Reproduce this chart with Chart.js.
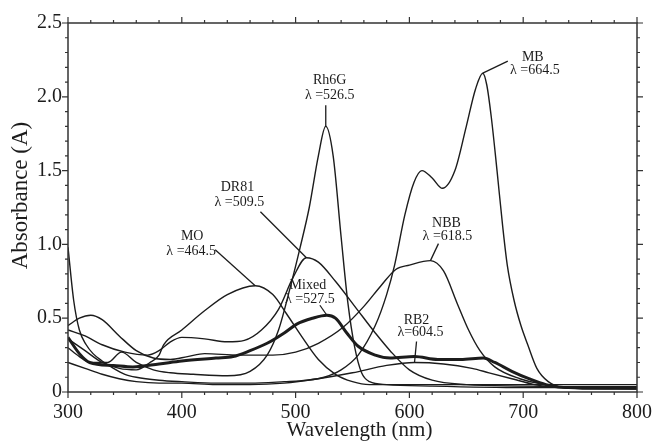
<!DOCTYPE html>
<html>
<head>
<meta charset="utf-8">
<script src="https://cdn.jsdelivr.net/npm/chart.js@4.4.1/dist/chart.umd.min.js"></script>
<style>
  body { margin: 0; background: #fff; }
  #wrap { width: 652px; height: 443px; }
</style>
</head>
<body>
<div id="wrap"><canvas id="spectra" width="652" height="443"></canvas></div>
<script>
// Absorption spectra

const mbNm  = [300,305,310,316,322,330,340,350,360,380,400,430,460,490,510,525,540,555,570,580,587,596,604,611,620,629,640,650,658,664.5,668,672,677,682,686,692,698,704,712,722,735,760,800];
const mbAbs = [0.98,0.62,0.42,0.32,0.26,0.21,0.16,0.12,0.10,0.08,0.07,0.06,0.06,0.07,0.08,0.10,0.15,0.25,0.45,0.66,0.86,1.20,1.42,1.50,1.45,1.38,1.50,1.80,2.05,2.16,2.08,1.86,1.50,1.12,0.86,0.62,0.45,0.32,0.16,0.07,0.03,0.02,0.02];

const rhNm  = [300,310,320,335,347,360,375,390,410,440,460,475,485,495,504,512,520,526.5,533,540,546,552,558,565,580,620,700,800];
const rhAbs = [0.30,0.24,0.20,0.20,0.27,0.20,0.15,0.13,0.12,0.11,0.14,0.25,0.42,0.70,0.98,1.25,1.60,1.80,1.60,1.05,0.60,0.30,0.13,0.07,0.05,0.04,0.03,0.03];

const drNm  = [300,315,330,350,370,380,390,400,420,440,455,470,485,498,509.5,520,535,554,570,583,600,620,650,700,800];
const drAbs = [0.42,0.38,0.32,0.27,0.25,0.28,0.34,0.37,0.36,0.34,0.35,0.42,0.56,0.78,0.91,0.88,0.75,0.56,0.40,0.28,0.15,0.08,0.05,0.04,0.03];

const moNm  = [300,315,330,345,360,372,380,384,400,420,440,464.5,480,492,505,520,535,550,565,600,700,800];
const moAbs = [0.36,0.28,0.20,0.16,0.15,0.20,0.25,0.32,0.42,0.55,0.66,0.72,0.66,0.53,0.38,0.22,0.12,0.07,0.05,0.05,0.05,0.05];

const nbbNm  = [300,310,320,330,345,360,375,390,405,420,450,480,500,520,542,560,575,588,600,618.5,630,642,652,662,675,697,720,740,800];
const nbbAbs = [0.45,0.50,0.52,0.49,0.38,0.28,0.23,0.22,0.24,0.26,0.25,0.25,0.27,0.33,0.44,0.58,0.72,0.83,0.86,0.89,0.82,0.60,0.42,0.28,0.17,0.09,0.05,0.03,0.03];

const rbNm  = [300,315,330,345,360,380,400,430,460,490,520,550,580,604.5,630,655,670,690,710,730,800];
const rbAbs = [0.20,0.16,0.12,0.09,0.07,0.06,0.06,0.05,0.05,0.06,0.09,0.13,0.18,0.20,0.19,0.16,0.13,0.09,0.05,0.03,0.02];

const mixNm  = [300,310,319,340,357,380,400,430,445,460,475,490,501,515,527.5,535,545,555,570,583,604.5,625,645,665,675,690,705,720,740,800];
const mixAbs = [0.37,0.26,0.20,0.18,0.17,0.19,0.21,0.23,0.24,0.28,0.33,0.40,0.46,0.50,0.52,0.50,0.40,0.31,0.25,0.23,0.24,0.22,0.22,0.23,0.20,0.14,0.09,0.05,0.03,0.03];

// peak labels
const dyeNames = ["MB", "Rh6G", "DR81", "MO", "NBB", "RB2", "Mixed"];
const peakNm   = [664.5, 526.5, 509.5, 464.5, 618.5, 604.5, 527.5];
const peakText = ["λ =664.5", "λ =526.5", "λ =509.5", "λ =464.5", "λ =618.5", "λ=604.5", "λ =527.5"];

// axis ticks and titles
const xTickStep = 20;
const yTickStep = 0.1;
const xTitle = "Wavelength (nm)";
const yTitle = "Absorbance (A)";

const serif = "'Liberation Serif', 'Times New Roman', serif";
const ink = "#1c1c1c";

function pts(nm, abs) {
  return nm.map((v, i) => ({ x: v, y: abs[i] }));
}

const series = [
  { label: "MB", nm: mbNm, abs: mbAbs },
  { label: "Rh6G", nm: rhNm, abs: rhAbs },
  { label: "DR81", nm: drNm, abs: drAbs },
  { label: "MO", nm: moNm, abs: moAbs },
  { label: "NBB", nm: nbbNm, abs: nbbAbs },
  { label: "RB2", nm: rbNm, abs: rbAbs },
  { label: "Mixed", nm: mixNm, abs: mixAbs }
];

// label layout, pixel offsets from the peak point: [name dx, name dy, lambda dx, lambda dy, leader dx, leader dy]
const labelLayout = {
  MB:    [50, -16, 52, -3, 25, -12],
  Rh6G:  [4, -46, 4, -31, 0, -21],
  DR81:  [-69, -70, -67, -55, -46, -46],
  MO:    [-63, -49, -64, -34, -40, -36],
  NBB:   [16, -37, 17, -24, 8, -17],
  RB2:   [2, -42, 6, -30, 2, -21],
  Mixed: [-19, -30, -17, -16, -7, -10]
};

const frameTicks = {
  id: "frameTicks",
  afterDraw(chart) {
    const { ctx, chartArea: a, scales: { x, y } } = chart;
    ctx.save();
    ctx.strokeStyle = "#333";
    ctx.lineWidth = 1.5;
    ctx.strokeRect(a.left, a.top, a.right - a.left, a.bottom - a.top);
    ctx.lineWidth = 1.2;
    ctx.beginPath();
    x.ticks.forEach(t => {
      const px = x.getPixelForValue(t.value);
      const len = t.value % 100 === 0 ? 6 : 3;
      ctx.moveTo(px, a.bottom); ctx.lineTo(px, a.bottom + len);
      ctx.moveTo(px, a.top); ctx.lineTo(px, a.top - len);
    });
    y.ticks.forEach(t => {
      const py = y.getPixelForValue(t.value);
      const major = Math.abs(t.value * 2 - Math.round(t.value * 2)) < 1e-6;
      const len = major ? 6 : 3;
      ctx.moveTo(a.left, py); ctx.lineTo(a.left - len, py);
      ctx.moveTo(a.right, py); ctx.lineTo(a.right + len, py);
    });
    ctx.stroke();

    // axis titles
    ctx.fillStyle = ink;
    ctx.textAlign = "center";
    ctx.textBaseline = "middle";
    ctx.font = "21px " + serif;
    ctx.fillText(xTitle, (a.left + a.right) / 2 + 7, 430);
    ctx.translate(21, (a.top + a.bottom) / 2 - 12);
    ctx.rotate(-Math.PI / 2);
    ctx.font = "23px " + serif;
    ctx.fillText(yTitle, 0, 0);
    ctx.restore();
  }
};

const peakLabels = {
  id: "peakLabels",
  afterDatasetsDraw(chart) {
    const { ctx, scales: { x, y } } = chart;
    ctx.save();
    ctx.font = "14px " + serif;
    ctx.fillStyle = ink;
    ctx.strokeStyle = ink;
    ctx.lineWidth = 1.3;
    ctx.textAlign = "center";
    ctx.textBaseline = "middle";
    dyeNames.forEach((name, i) => {
      const s = series.find(d => d.label === name);
      const k = s.nm.indexOf(peakNm[i]);
      const px = x.getPixelForValue(peakNm[i]);
      const py = y.getPixelForValue(s.abs[k]);
      const o = labelLayout[name];
      ctx.fillText(name, px + o[0], py + o[1]);
      ctx.fillText(peakText[i], px + o[2], py + o[3]);
      ctx.beginPath();
      ctx.moveTo(px + o[4], py + o[5]);
      ctx.lineTo(px, py);
      ctx.stroke();
    });
    ctx.restore();
  }
};

new Chart(document.getElementById("spectra"), {
  type: "line",
  data: {
    datasets: series.map(s => ({
      label: s.label,
      data: pts(s.nm, s.abs),
      borderColor: ink,
      borderWidth: s.label === "Mixed" ? 3 : 1.4,
      pointRadius: 0,
      fill: false
    }))
  },
  options: {
    responsive: false,
    animation: false,
    layout: { padding: { top: 23, right: 15, left: 0, bottom: 0 } },
    elements: { line: { cubicInterpolationMode: "monotone" } },
    plugins: {
      legend: { display: false },
      tooltip: { enabled: false }
    },
    scales: {
      x: {
        type: "linear",
        min: 300,
        max: 800,
        afterFit(s) { s.height = 51; s.paddingLeft = 0; s.paddingRight = 0; },
        grid: { display: false, drawTicks: false },
        border: { display: false },
        ticks: {
          stepSize: xTickStep,
          maxTicksLimit: 100,
          autoSkip: false,
          maxRotation: 0,
          padding: 9,
          color: ink,
          font: { family: serif, size: 20 },
          callback: v => (v % 100 === 0 ? String(v) : "")
        }
      },
      y: {
        min: 0,
        max: 2.5,
        afterFit(s) { s.width = 68; s.paddingTop = 0; s.paddingBottom = 0; },
        grid: { display: false, drawTicks: false },
        border: { display: false },
        ticks: {
          stepSize: yTickStep,
          maxTicksLimit: 100,
          autoSkip: false,
          padding: 6,
          color: ink,
          font: { family: serif, size: 20 },
          callback: v => {
            const h = v * 2;
            if (Math.abs(h - Math.round(h)) > 1e-6) return "";
            return Math.round(h) === 0 ? "0" : (Math.round(h) / 2).toFixed(1);
          }
        }
      }
    }
  },
  plugins: [frameTicks, peakLabels]
});
</script>
</body>
</html>
